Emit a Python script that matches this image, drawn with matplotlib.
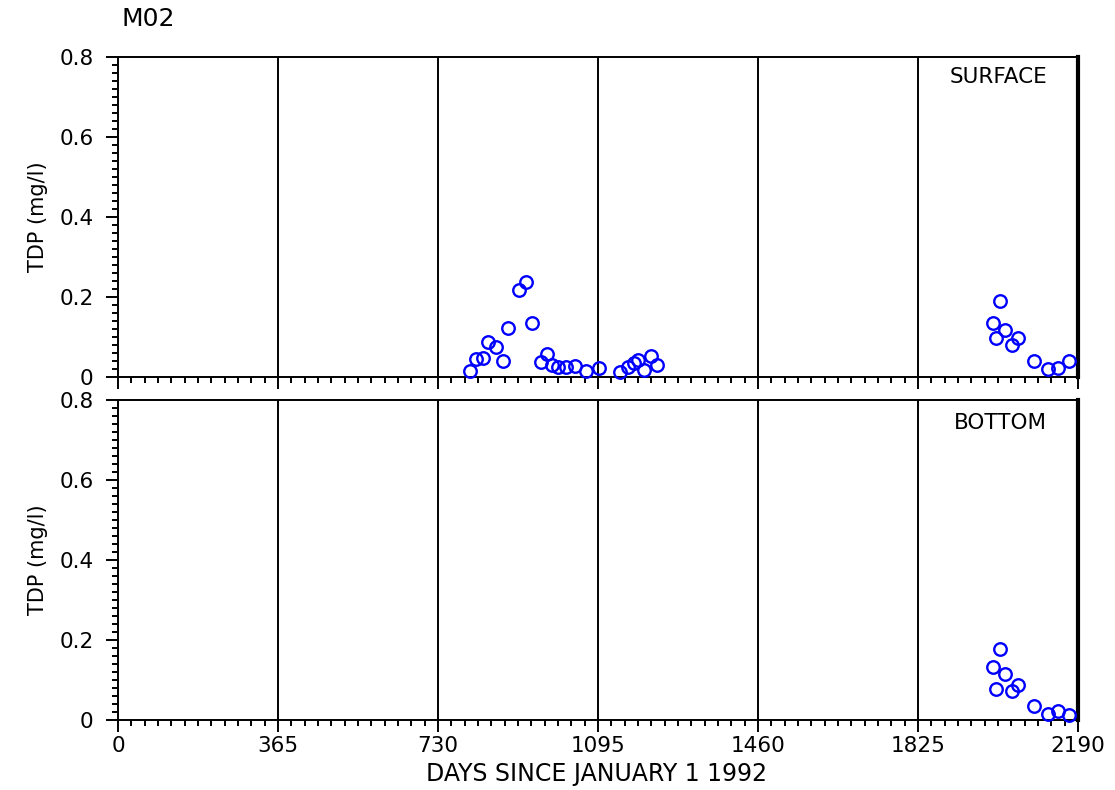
import matplotlib
matplotlib.use("Agg")
import matplotlib.pyplot as plt
import numpy as np
from matplotlib.ticker import MultipleLocator, FixedLocator

# ---- data ----
surface_days = [803, 817, 832, 845, 862, 879, 889, 915, 931, 944, 965, 978, 989,
                1004, 1022, 1043, 1068, 1098, 1145, 1164, 1176, 1187, 1200, 1215, 1230,
                1995, 2002, 2012, 2023, 2039, 2052, 2090, 2122, 2144, 2169]
surface_tdp = [0.016, 0.045, 0.048, 0.088, 0.076, 0.041, 0.122, 0.2175, 0.237, 0.134,
               0.038, 0.057, 0.030, 0.024, 0.026, 0.0275, 0.015, 0.022, 0.012, 0.024,
               0.034, 0.0425, 0.0175, 0.0525, 0.030,
               0.134, 0.098, 0.19, 0.1175, 0.08, 0.097, 0.041, 0.02, 0.022, 0.04]
bottom_days = [1995, 2002, 2012, 2023, 2039, 2052, 2090, 2122, 2144, 2170]
bottom_tdp = [0.133, 0.0775, 0.177, 0.114, 0.0725, 0.0875, 0.035, 0.014, 0.023, 0.0125]

x_ticks = [0, 365, 730, 1095, 1460, 1825, 2190]
y_ticks = [0, 0.2, 0.4, 0.6, 0.8]
y_ticklabels = ["0", "0.2", "0.4", "0.6", "0.8"]
title = "M02"
panel_labels = ["SURFACE", "BOTTOM"]
ylabel = "TDP (mg/l)"
xlabel = "DAYS SINCE JANUARY 1 1992"

W, H = 1115, 790
plt.rcParams['font.family'] = ['DejaVu Sans']
fig = plt.figure(figsize=(W / 100, H / 100), dpi=100)

def fx(px):
    return px / W

def fy(py):
    return 1 - py / H

FS = 15.5
left, right = 118, 1078
panels = [(57, 377), (400, 720)]
series = [(surface_days, surface_tdp), (bottom_days, bottom_tdp)]
label_pos = [(0.9677, 0.936), (0.9677, 0.928)]

for i, ((top, bot), (dx, dy)) in enumerate(zip(panels, series)):
    ax = fig.add_axes([fx(left), fy(bot), fx(right - left), fy(top) - fy(bot)])
    ax.set_xlim(0, 2190)
    ax.set_ylim(0, 0.8)
    for v in x_ticks[1:-1]:
        ax.axvline(v, color='black', lw=1.4, zorder=1)
    ax.plot(dx, dy, linestyle='none', marker='o', markersize=9,
            markerfacecolor='none', markeredgecolor='#0000ff', markeredgewidth=1.7,
            zorder=3, clip_on=False)
    for s in ['left', 'bottom', 'top']:
        ax.spines[s].set_linewidth(1.4)
    ax.spines['right'].set_linewidth(3.0)
    ax.set_xticks(x_ticks)
    ax.xaxis.set_minor_locator(FixedLocator(np.arange(0, 2190.1, 365 / 12)))
    ax.set_yticks(y_ticks)
    ax.yaxis.set_minor_locator(MultipleLocator(0.02))
    ax.tick_params(axis='both', which='major', direction='out', length=8.5, width=1.4,
                   labelsize=FS, color='black')
    ax.tick_params(axis='both', which='minor', direction='out', length=4.2, width=1.4)
    ax.tick_params(axis='y', which='major', pad=9)
    ax.set_yticklabels(y_ticklabels)
    if i == 0:
        ax.set_xticklabels([])
    else:
        ax.set_xticklabels([str(v) for v in x_ticks])
        ax.tick_params(axis='x', which='major', pad=3)
    ax.text(label_pos[i][0], label_pos[i][1], panel_labels[i], transform=ax.transAxes,
            ha='right', va='center', fontsize=FS)
    ax.set_ylabel(ylabel, fontsize=FS - 0.5, labelpad=8)

fig.text(fx(148), fy(19), title, ha='center', va='center', fontsize=18)
fig.text(fx(597), fy(774), xlabel, ha='center', va='center', fontsize=17)

fig.savefig("out.png", dpi=100)
